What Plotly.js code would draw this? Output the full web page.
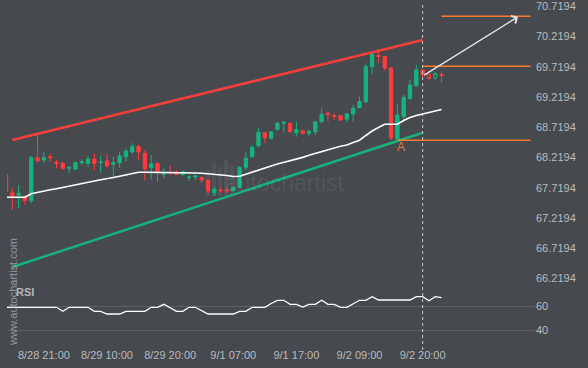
<!DOCTYPE html>
<html>
<head>
<meta charset="utf-8">
<script src="https://cdn.plot.ly/plotly-3.0.1.min.js"></script>
<style>html,body{margin:0;padding:0;background:#464a4f;}#chart{width:588px;height:368px;}</style>
</head>
<body>
<div id="chart"></div>
<script>
// ---- data ----
const candleIndex = [0,1,2,3,4,5,6,7,8,9,10,11,12,13,14,15,16,17,18,19,20,21,22,23,24,25,26,27,28,29,30,31,32,33,34,35,36,37,38,39,40,41,42,43,44,45,46,47,48,49,50,51,52,53,54,55,56,57,58,59,60,61,62,63,64,65,66,67,68,69];
const openValues = [67.899,67.606,67.568,67.540,67.474,68.185,68.147,68.201,68.109,68.092,
68.009,67.998,68.102,68.092,68.163,68.102,68.130,68.076,68.102,68.201,
68.279,68.366,68.257,68.019,68.092,67.910,67.948,67.948,67.910,67.854,
67.866,67.861,67.816,67.606,67.651,67.651,67.639,67.696,68.026,68.201,
68.383,68.598,68.505,68.654,68.753,68.753,68.598,68.631,68.588,68.614,
68.780,68.924,68.879,68.879,68.824,68.907,69.011,69.110,69.689,69.874,
69.854,69.667,68.494,68.862,69.166,69.375,69.634,69.563,69.507,69.563];
const highValues = [67.915,67.679,67.733,67.568,68.213,68.560,68.284,68.257,68.147,68.118,
68.047,68.118,68.158,68.213,68.257,68.213,68.257,68.196,68.279,68.340,
68.423,68.395,68.312,68.229,68.097,68.019,68.059,67.981,67.981,67.894,
67.899,67.861,67.816,67.705,67.689,67.679,67.717,68.047,68.284,68.395,
68.671,68.598,68.614,68.780,68.791,68.767,68.780,68.643,68.643,68.796,
69.001,68.924,68.919,68.891,68.929,69.056,69.193,69.734,69.910,69.937,
69.866,69.684,69.067,69.221,69.469,69.717,69.643,69.606,69.601,69.606];
const lowValues = [67.610,67.320,67.348,67.403,67.431,68.102,68.102,68.118,68.009,67.981,
67.927,67.981,68.064,68.036,67.981,67.937,68.019,67.861,68.019,68.118,
68.251,68.147,67.805,67.828,67.788,67.844,67.899,67.894,67.882,67.799,
67.816,67.771,67.596,67.552,67.606,67.596,67.623,67.672,67.981,68.190,
68.350,68.423,68.489,68.631,68.598,68.601,68.532,68.568,68.543,68.560,
68.753,68.780,68.808,68.796,68.780,68.780,69.001,69.084,69.568,69.755,
69.626,68.477,68.477,68.808,69.138,69.361,69.502,69.458,69.469,69.424];
const closeValues = [67.623,67.552,67.596,67.474,68.185,68.135,68.185,68.185,68.092,68.009,
68.026,68.102,68.118,68.163,68.092,68.114,68.052,68.102,68.213,68.295,
68.366,68.279,67.998,68.081,67.943,67.948,67.937,67.910,67.948,67.866,
67.882,67.816,67.634,67.662,67.639,67.639,67.689,68.026,68.175,68.356,
68.604,68.515,68.614,68.753,68.770,68.614,68.648,68.588,68.621,68.775,
68.902,68.902,68.869,68.808,68.907,69.001,69.110,69.689,69.894,69.857,
69.667,68.510,68.891,69.183,69.386,69.634,69.552,69.497,69.573,69.547];
const hollowIndex = [67,68];
const maValues = [67.530,67.530,67.530,67.530,67.588,67.613,67.634,67.654,67.672,67.695,
67.717,67.740,67.760,67.780,67.800,67.821,67.836,67.856,67.879,67.904,
67.927,67.944,67.944,67.944,67.944,67.944,67.944,67.944,67.944,67.944,
67.932,67.927,67.920,67.915,67.907,67.891,67.874,67.877,67.912,67.948,
67.981,68.014,68.047,68.079,68.105,68.137,68.155,68.190,68.224,68.257,
68.286,68.317,68.345,68.373,68.395,68.434,68.474,68.552,68.626,68.684,
68.737,68.737,68.737,68.799,68.849,68.882,68.907,68.932,68.957,68.981];
const rsiValues = [59.17,59.17,59.17,59.17,59.17,59.17,59.17,59.17,59.17,55.83,
59.17,59.17,59.17,59.17,55.83,55.83,53.58,53.58,53.58,55.83,
55.83,55.83,55.83,59.17,59.17,61.67,58.75,55.83,55.83,59.17,
59.17,56.08,53.58,53.58,53.58,53.58,53.58,55.83,55.83,59.17,
59.17,59.17,62.33,65.00,65.00,61.67,61.67,59.42,61.67,61.67,
65.00,61.67,61.67,59.17,59.17,61.92,65.00,65.00,68.00,65.25,
65.25,65.25,65.25,65.25,65.25,68.00,68.00,64.67,68.00,67.17];
const tickIndex = [6,16,26,36,46,56,66];
const tickLabels = ['8/28 21:00','8/29 10:00','8/29 20:00','9/1 07:00','9/1 17:00','9/2 09:00','9/2 20:00'];
const priceTicks = [66.2194,66.7194,67.2194,67.7194,68.2194,68.7194,69.2194,69.7194,70.2194,70.7194];
const rsiTicks = [40,60];
const channelTopX = [1,66], channelTopY = [68.477,70.130];
const channelBottomX = [1,66], channelBottomY = [66.378,68.598];
const resistanceX = [66,83.1], resistanceY = [69.695,69.695];
const supportX = [62,83.1], supportY = [68.472,68.472];
const targetX = [69,83.1], targetY = [70.522,70.522];
const arrowFrom = [66,69.535], arrowTo = [81.1,70.515];
const pointA = [62.5,68.366];
const currentIndex = 66;

// ---- styles ----
const BG='#464a4f', GREEN='#15b47f', RED='#ff3b3b', ORANGE='#ff7a2e', TXT='#b9bbbd';

function pick(arr, keep){ return arr.filter((v,i)=>keep(candleIndex[i])); }
const solid = i => hollowIndex.indexOf(i) < 0;
const hollow = i => hollowIndex.indexOf(i) >= 0;

const traces = [
  {type:'scatter', mode:'lines', x:channelTopX, y:channelTopY, line:{color:'#f53f3a', width:2.5}, xaxis:'x', yaxis:'y', hoverinfo:'skip'},
  {type:'scatter', mode:'lines', x:channelBottomX, y:channelBottomY, line:{color:'#16b27e', width:2.5}, xaxis:'x', yaxis:'y', hoverinfo:'skip'},
  {type:'scatter', mode:'lines', x:candleIndex, y:maValues, line:{color:'#ffffff', width:1.6}, xaxis:'x', yaxis:'y', hoverinfo:'skip'},
  {type:'candlestick', x:pick(candleIndex,solid), open:pick(openValues,solid), high:pick(highValues,solid), low:pick(lowValues,solid), close:pick(closeValues,solid),
   increasing:{line:{color:GREEN,width:1}, fillcolor:GREEN}, decreasing:{line:{color:RED,width:1}, fillcolor:RED}, whiskerwidth:0, xaxis:'x', yaxis:'y', hoverinfo:'skip'},
  {type:'candlestick', x:pick(candleIndex,hollow), open:pick(openValues,hollow), high:pick(highValues,hollow), low:pick(lowValues,hollow), close:pick(closeValues,hollow),
   increasing:{line:{color:GREEN,width:1}, fillcolor:BG}, decreasing:{line:{color:RED,width:1}, fillcolor:BG}, whiskerwidth:0, xaxis:'x', yaxis:'y', hoverinfo:'skip'},
  {type:'scatter', mode:'lines', x:resistanceX, y:resistanceY, line:{color:ORANGE, width:1.5}, xaxis:'x', yaxis:'y', hoverinfo:'skip'},
  {type:'scatter', mode:'lines', x:supportX, y:supportY, line:{color:ORANGE, width:1.5}, xaxis:'x', yaxis:'y', hoverinfo:'skip'},
  {type:'scatter', mode:'lines', x:targetX, y:targetY, line:{color:ORANGE, width:1.5}, xaxis:'x', yaxis:'y', hoverinfo:'skip'},
  {type:'scatter', mode:'lines', x:candleIndex, y:rsiValues, line:{color:'#ffffff', width:1.3}, xaxis:'x', yaxis:'y2', hoverinfo:'skip'}
];

// faint watermark logo bars (decoration, paper coordinates)
const logoShapes = [[208,170],[214,163],[220,167],[226,160],[232,166]].map(([px,top]) => ({
  type:'rect', xref:'paper', yref:'paper', layer:'below',
  x0:(px-2)/588, x1:(px+2)/588, y0:1-196/368, y1:1-top/368,
  fillcolor:'rgba(255,255,255,0.06)', line:{width:0}
}));

const layout = {
  width:588, height:368,
  margin:{l:0,r:0,t:0,b:0},
  paper_bgcolor:BG, plot_bgcolor:BG,
  showlegend:false, hovermode:false, dragmode:false,
  boxgap:0.25,
  font:{family:'"Liberation Sans", Arial, sans-serif', size:11, color:TXT},
  xaxis:{domain:[7/588, 535/588], range:[0.158, 83.8], anchor:'y2', showgrid:false, zeroline:false, showline:false,
         tickmode:'array', tickvals:tickIndex, ticktext:tickLabels, ticks:'', tickfont:{size:11,color:TXT}, ticklabelstandoff:2,
         rangeslider:{visible:false}, fixedrange:true},
  yaxis:{domain:[1-282/368, 1], range:[66.1301, 70.7913], anchor:'x', side:'right', showgrid:false, zeroline:false, showline:false,
         tickmode:'array', tickvals:priceTicks, ticktext:priceTicks.map(v=>v.toFixed(4)), ticks:'', tickfont:{size:11,color:TXT},
         ticklabelshift:2, ticklabeloverflow:'allow', fixedrange:true},
  yaxis2:{domain:[1-345/368, 1-285/368], range:[27.75, 77.75], anchor:'x', side:'right', showgrid:true, gridcolor:'#5c6065', gridwidth:1, zeroline:false, showline:false,
         tickmode:'array', tickvals:rsiTicks, ticktext:rsiTicks.map(String), ticks:'', tickfont:{size:11,color:TXT}, fixedrange:true},
  shapes:logoShapes.concat([
    {type:'line', xref:'x', yref:'paper', x0:currentIndex, x1:currentIndex, y0:1-350/368, y1:1-5/368, line:{color:'#c8c8c8', width:1, dash:'3px,3px'}}
  ]),
  annotations:[
    {xref:'x', yref:'y', x:arrowTo[0], y:arrowTo[1], ax:arrowFrom[0], ay:arrowFrom[1], axref:'x', ayref:'y', text:'', showarrow:true, arrowhead:4, arrowsize:1.3, arrowwidth:1.3, arrowcolor:'#e8e8e8'},
    {xref:'x', yref:'y', x:pointA[0], y:pointA[1], text:'A', showarrow:false, font:{size:12, color:'#dc7a3c'}},
    {xref:'paper', yref:'paper', x:285/588, y:1-183/368, xanchor:'center', yanchor:'middle', text:'autochartist', showarrow:false, font:{size:23, color:'rgba(255,255,255,0.08)'}},
    {xref:'paper', yref:'paper', x:13/588, y:1-348/368, xanchor:'center', yanchor:'bottom', text:'www.autochartist.com', textangle:-90, showarrow:false, font:{size:11, color:'rgba(200,202,205,0.6)'}},
    {xref:'paper', yref:'paper', x:14/588, y:1-292/368, xanchor:'left', yanchor:'middle', text:'<b>RSI</b>', showarrow:false, font:{size:11, color:'#b4b6b9'}}
  ]
};

Plotly.newPlot('chart', traces, layout, {staticPlot:true, displayModeBar:false});
</script>
</body>
</html>
